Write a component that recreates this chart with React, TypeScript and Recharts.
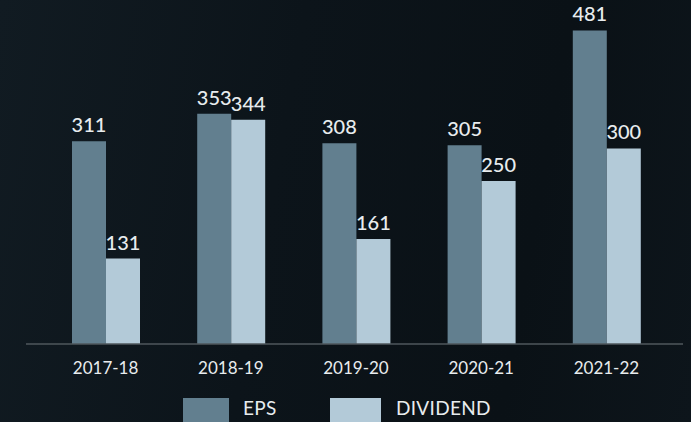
import React from 'react';
import { Bar, BarChart, LabelList, Legend, XAxis, YAxis } from 'recharts';

const years = ['2017-18', '2018-19', '2019-20', '2020-21', '2021-22'];
const eps = [311, 353, 308, 305, 481];
const dividend = [131, 344, 161, 250, 300];

const COLORS = {
  eps: '#627f8f',
  dividend: '#b3cad8',
  text: '#e8ecee',
  axis: '#4f575d',
};

const data = years.map((year, i) => ({ year, eps: eps[i], dividend: dividend[i] }));

const FONT = 'Lato, "Open Sans", sans-serif';

function LegendBox() {
  const items = [
    { label: 'EPS', color: COLORS.eps, x: 183, w: 46, tx: 243 },
    { label: 'DIVIDEND', color: COLORS.dividend, x: 330, w: 51, tx: 396 },
  ];
  return (
    <div style={{ position: 'relative', width: 691, height: 34 }}>
      {items.map((it) => (
        <React.Fragment key={it.label}>
          <div
            style={{
              position: 'absolute',
              left: it.x,
              top: 8,
              width: it.w,
              height: 30,
              background: it.color,
            }}
          />
          <span
            style={{
              position: 'absolute',
              left: it.tx,
              top: 7,
              color: COLORS.text,
              fontSize: 19,
              fontFamily: FONT,
              lineHeight: '22px',
              letterSpacing: 0.3,
            }}
          >
            {it.label}
          </span>
        </React.Fragment>
      ))}
    </div>
  );
}

export default function App() {
  return (
    <div
      style={{
        position: 'absolute',
        left: 0,
        top: 0,
        width: 691,
        height: 422,
        overflow: 'hidden',
        background: 'linear-gradient(100deg, #111b22 0%, #0c141a 40%, #0a1116 75%, #0d151b 100%)',
      }}
    >
      <BarChart
        width={691}
        height={422}
        data={data}
        margin={{ top: 18, right: 8, bottom: 0, left: 26 }}
        barCategoryGap={29}
        barGap={0}
      >
        <YAxis hide domain={[0, 500]} />
        <XAxis
          dataKey="year"
          padding={{ left: 17, right: 14 }}
          height={46}
          tickLine={false}
          axisLine={{ stroke: COLORS.axis, strokeWidth: 1.5 }}
          tick={{ fill: COLORS.text, fontSize: 17, fontFamily: FONT }}
          tickMargin={12}
          interval={0}
        />
        <Legend
          verticalAlign="bottom"
          height={32}
          wrapperStyle={{ left: 0, width: 691 }}
          content={() => <LegendBox />}
        />
        <Bar dataKey="eps" name="EPS" fill={COLORS.eps} isAnimationActive={false}>
          <LabelList
            dataKey="eps"
            position="top"
            offset={9}
            fill={COLORS.text}
            fontSize={20}
            fontWeight={500}
            fontFamily={FONT}
          />
        </Bar>
        <Bar dataKey="dividend" name="DIVIDEND" fill={COLORS.dividend} isAnimationActive={false}>
          <LabelList
            dataKey="dividend"
            position="top"
            offset={9}
            fill={COLORS.text}
            fontSize={20}
            fontWeight={500}
            fontFamily={FONT}
          />
        </Bar>
      </BarChart>
    </div>
  );
}
